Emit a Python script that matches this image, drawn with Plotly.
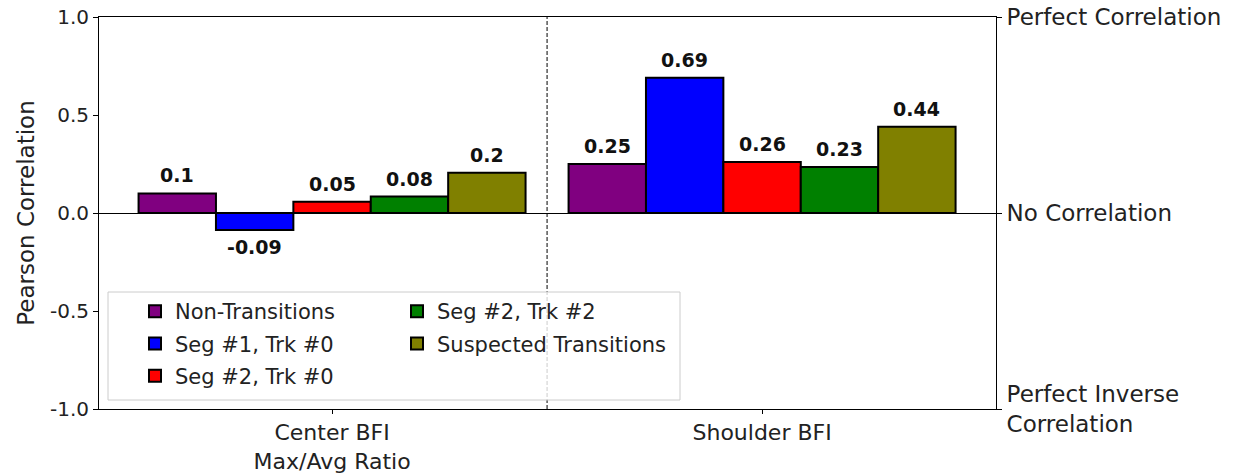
import plotly.graph_objects as go

categories = ["Center BFI<br>Max/Avg Ratio", "Shoulder BFI"]
series_names = ["Non-Transitions", "Seg #1, Trk #0", "Seg #2, Trk #0", "Seg #2, Trk #2", "Suspected Transitions"]
series_colors = ["#800080", "#0000ff", "#ff0000", "#008000", "#808000"]
center_values = [0.10, -0.087, 0.057, 0.084, 0.205]
shoulder_values = [0.25, 0.69, 0.26, 0.235, 0.44]
center_labels = ["0.1", "-0.09", "0.05", "0.08", "0.2"]
shoulder_labels = ["0.25", "0.69", "0.26", "0.23", "0.44"]
y_ticks = [-1.0, -0.5, 0.0, 0.5, 1.0]
y_ticklabels = ["-1.0", "-0.5", "0.0", "0.5", "1.0"]
right_ticks = [1.0, 0.0, -1.0]
right_ticklabels = ["Perfect Correlation", "No Correlation", "Perfect Inverse<br>Correlation"]

FONT = "DejaVu Sans"
W, H = 1246, 475
ML, MT = 99, 17
PW, PH = 897, 392
MR = W - ML - PW
MB = H - MT - PH
BAR_W = 0.18
cat_pos = [0, 1]

fig = go.Figure()
legend_of = ["legend", "legend", "legend", "legend2", "legend2"]
for i, name in enumerate(series_names):
    fig.add_trace(go.Bar(
        x=cat_pos,
        y=[center_values[i], shoulder_values[i]],
        name=name,
        marker=dict(color=series_colors[i], line=dict(color="black", width=2)),
        legend=legend_of[i],
        legendgroup=name,
        hoverinfo="skip",
    ))

# invisible helper trace so the right-hand axis is drawn
fig.add_trace(go.Scatter(
    x=cat_pos, y=[center_values[0], shoulder_values[0]], yaxis="y2",
    mode="markers", marker=dict(opacity=0), showlegend=False, hoverinfo="skip",
))

annotations = []
for i in range(len(series_names)):
    for c, (vals, labs) in enumerate([(center_values, center_labels), (shoulder_values, shoulder_labels)]):
        v = vals[i]
        annotations.append(dict(
            x=cat_pos[c] + (i - 2) * BAR_W, y=v, xref="x", yref="y",
            text="<b>%s</b>" % labs[i], showarrow=False,
            yanchor="bottom" if v >= 0 else "top",
            yshift=5 if v >= 0 else -4,
            font=dict(family=FONT, size=19, color="#111"),
        ))

# helpers: pixel -> paper fraction
def px_x(p):
    return (p - ML) / PW
def px_y(p):
    return 1 - (p - MT) / PH

shapes = [
    dict(type="line", xref="x", yref="paper", x0=0.5, x1=0.5, y0=0, y1=1,
         line=dict(color="black", width=1, dash="4px,2px"), layer="above"),
    dict(type="rect", xref="paper", yref="paper",
         x0=px_x(108), x1=px_x(680), y0=px_y(400), y1=px_y(292),
         fillcolor="rgba(255,255,255,0.8)", line=dict(color="#cccccc", width=1), layer="above"),
]

fig.update_layout(
    width=W, height=H,
    margin=dict(l=ML, r=MR, t=MT, b=MB, pad=0, autoexpand=False),
    paper_bgcolor="white", plot_bgcolor="white",
    font=dict(family=FONT, size=20, color="#222"),
    barmode="group", bargap=0.1, bargroupgap=0,
    showlegend=True,
    xaxis=dict(
        range=[-0.542, 1.544], tickvals=cat_pos, ticktext=categories,
        showline=True, linecolor="black", linewidth=1, mirror=True,
        ticks="outside", ticklen=4, tickcolor="black",
        showgrid=False, zeroline=False, automargin=False,
        tickfont=dict(size=22, family=FONT, color="#222"),
    ),
    yaxis=dict(
        range=[-1, 1], tickvals=y_ticks, ticktext=y_ticklabels,
        showline=True, linecolor="black", linewidth=1, mirror=True,
        ticks="outside", ticklen=5, tickcolor="black",
        showgrid=False, zeroline=True, zerolinecolor="black", zerolinewidth=1.3,
        automargin=False,
        tickfont=dict(size=20, family=FONT, color="#222"),
        title=dict(text="Pearson Correlation", font=dict(size=23, family=FONT, color="#222"), standoff=8),
    ),
    yaxis2=dict(
        range=[-1, 1], overlaying="y", side="right", anchor="x",
        tickvals=right_ticks, ticktext=right_ticklabels,
        showline=True, linecolor="black", linewidth=1,
        ticks="outside", ticklen=5, tickcolor="black",
        showgrid=False, zeroline=False, automargin=False,
        tickfont=dict(size=23, family=FONT, color="#222"),
    ),
    legend=dict(
        x=px_x(135), y=px_y(291), xanchor="left", yanchor="top",
        bgcolor="rgba(0,0,0,0)", borderwidth=0, tracegroupgap=2,
        font=dict(size=21, family=FONT, color="#222"),
    ),
    legend2=dict(
        x=px_x(397), y=px_y(291), xanchor="left", yanchor="top",
        bgcolor="rgba(0,0,0,0)", borderwidth=0, tracegroupgap=2,
        font=dict(size=21, family=FONT, color="#222"),
    ),
    shapes=shapes,
    annotations=annotations,
)

fig.write_html("out.html", config={"displayModeBar": False},
               post_script="document.body.style.margin='0';")
